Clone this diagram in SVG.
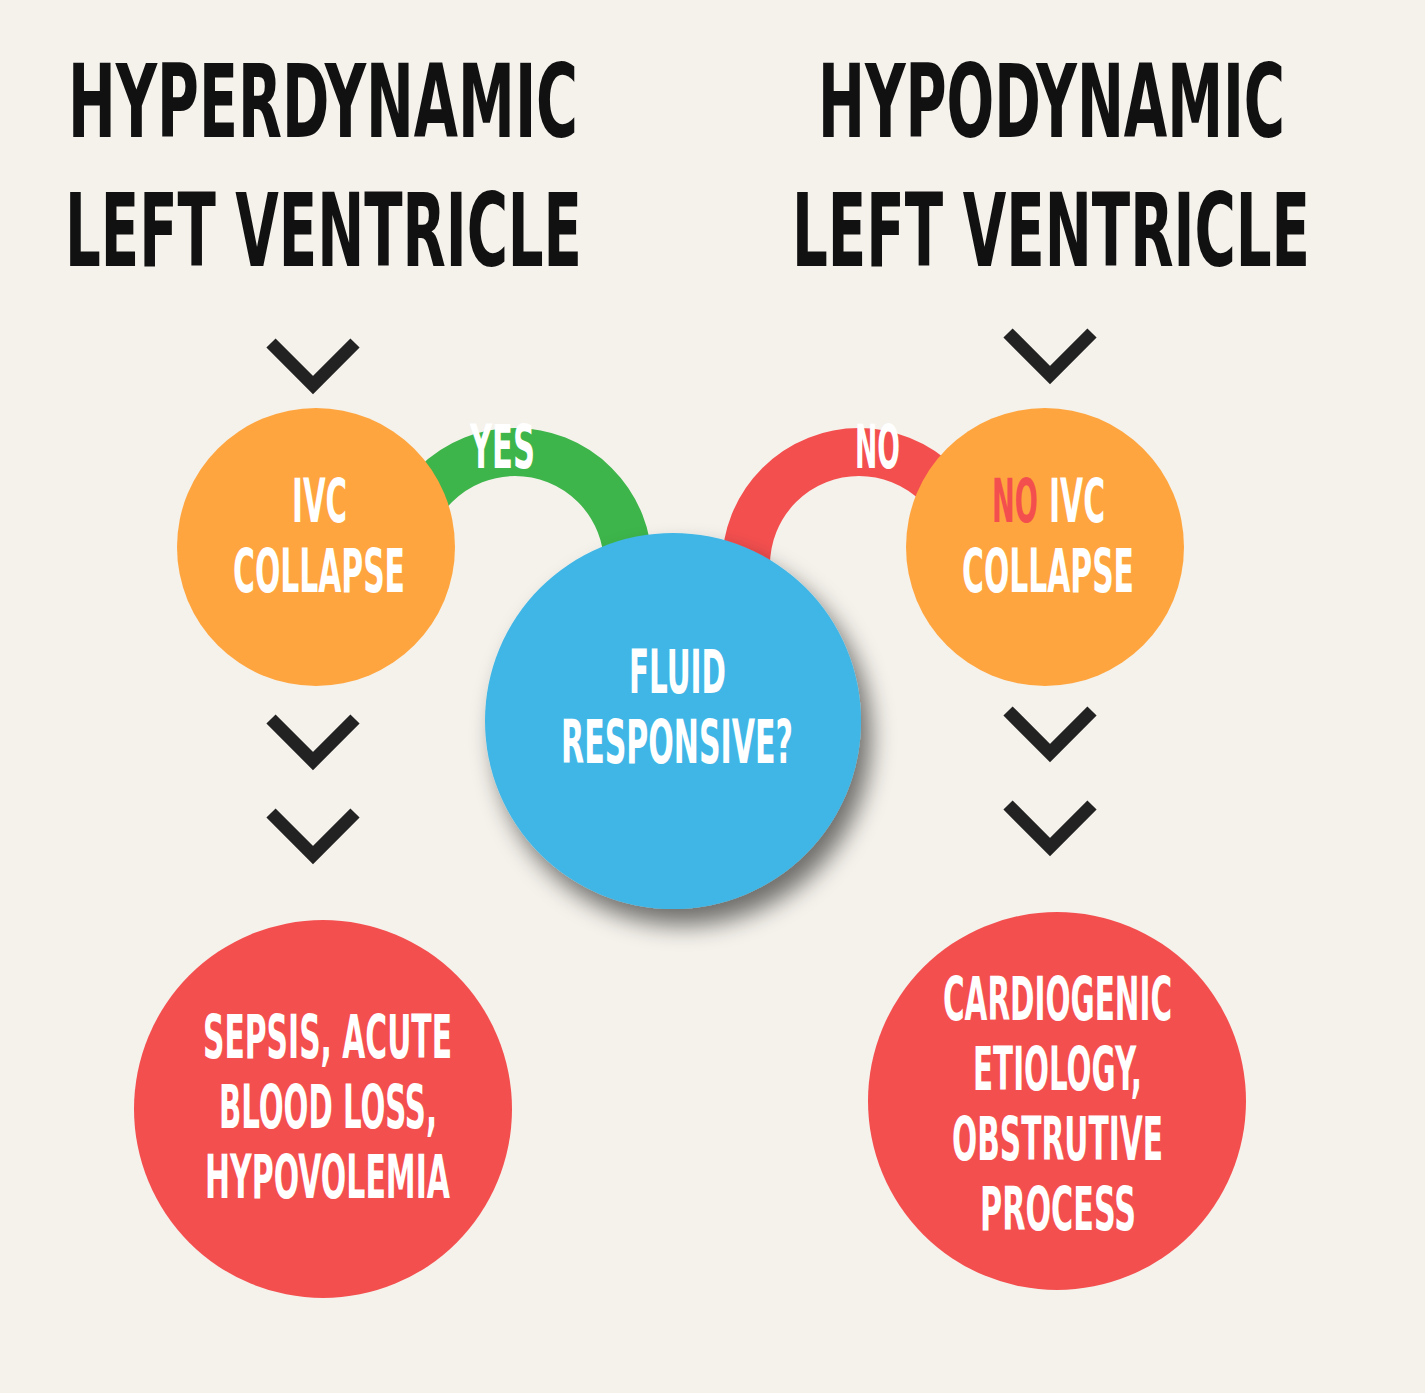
<svg xmlns="http://www.w3.org/2000/svg" width="1425" height="1393" viewBox="0 0 1425 1393">
<style>
.t{font-family:"DejaVu Sans Condensed","DejaVu Sans",sans-serif;font-weight:bold;fill:#111;font-size:102px}
.w{font-family:"DejaVu Sans Condensed","DejaVu Sans",sans-serif;font-weight:bold;fill:#fff;font-size:60px}
.chev{fill:none;stroke:#222;stroke-width:13}
</style>
<defs>
<filter id="sh" x="-30%" y="-30%" width="160%" height="160%"><feGaussianBlur in="SourceAlpha" stdDeviation="12"/><feOffset dx="10" dy="16"/><feComponentTransfer><feFuncA type="linear" slope="0.55"/></feComponentTransfer><feMerge><feMergeNode/><feMergeNode in="SourceGraphic"/></feMerge></filter>
</defs>
<rect width="1425" height="1393" fill="#f5f2ec"/>
<g id="titles">
<text class="t" x="68" y="137" textLength="510" lengthAdjust="spacingAndGlyphs">HYPERDYNAMIC</text>
<text class="t" x="65" y="266" textLength="517" lengthAdjust="spacingAndGlyphs">LEFT VENTRICLE</text>
<text class="t" x="818" y="137" textLength="467" lengthAdjust="spacingAndGlyphs">HYPODYNAMIC</text>
<text class="t" x="792" y="266" textLength="518" lengthAdjust="spacingAndGlyphs">LEFT VENTRICLE</text>
</g>
<g id="connectors">
<path d="M 402 565 A 113 113 0 0 1 628 565" fill="none" stroke="#3db54a" stroke-width="48"/>
<path d="M 746 565 A 113 113 0 0 1 972 565" fill="none" stroke="#f44f4f" stroke-width="48"/>
<path class="chev" d="M271 343 L313 385 L355 343"/>
<path class="chev" d="M271 719 L313 761 L355 719"/>
<path class="chev" d="M271 813 L313 855 L355 813"/>
<path class="chev" d="M1008 333 L1050 375 L1092 333"/>
<path class="chev" d="M1008 711 L1050 753 L1092 711"/>
<path class="chev" d="M1008 805 L1050 847 L1092 805"/>
<text class="w" x="470" y="468" textLength="65" lengthAdjust="spacingAndGlyphs">YES</text>
<text class="w" x="855" y="468" textLength="45" lengthAdjust="spacingAndGlyphs">NO</text>
</g>
<g id="ivc-left">
<circle cx="316" cy="547" r="139" fill="#ffa53f"/>
<text class="w" x="292" y="522" textLength="55" lengthAdjust="spacingAndGlyphs">IVC</text>
<text class="w" x="233" y="592" textLength="172" lengthAdjust="spacingAndGlyphs">COLLAPSE</text>
</g>
<g id="ivc-right">
<circle cx="1045" cy="547" r="139" fill="#ffa53f"/>
<text class="w" x="992" y="522" textLength="46" lengthAdjust="spacingAndGlyphs" style="fill:#f44f4f">NO</text>
<text class="w" x="1049" y="522" textLength="56" lengthAdjust="spacingAndGlyphs">IVC</text>
<text class="w" x="962" y="592" textLength="172" lengthAdjust="spacingAndGlyphs">COLLAPSE</text>
</g>
<g id="fluid">
<circle cx="673" cy="721" r="188" fill="#3fb6e6" filter="url(#sh)"/>
<text class="w" x="629" y="693" textLength="97" lengthAdjust="spacingAndGlyphs">FLUID</text>
<text class="w" x="561" y="763" textLength="232" lengthAdjust="spacingAndGlyphs">RESPONSIVE?</text>
</g>
<g id="result-left">
<circle cx="323" cy="1109" r="189" fill="#f44f4f"/>
<text class="w" x="203" y="1058" textLength="249" lengthAdjust="spacingAndGlyphs">SEPSIS, ACUTE</text>
<text class="w" x="219" y="1128" textLength="218" lengthAdjust="spacingAndGlyphs">BLOOD LOSS,</text>
<text class="w" x="205" y="1198" textLength="245" lengthAdjust="spacingAndGlyphs">HYPOVOLEMIA</text>
</g>
<g id="result-right">
<circle cx="1057" cy="1101" r="189" fill="#f44f4f"/>
<text class="w" x="943" y="1020" textLength="229" lengthAdjust="spacingAndGlyphs">CARDIOGENIC</text>
<text class="w" x="973" y="1090" textLength="169" lengthAdjust="spacingAndGlyphs">ETIOLOGY,</text>
<text class="w" x="952" y="1160" textLength="211" lengthAdjust="spacingAndGlyphs">OBSTRUTIVE</text>
<text class="w" x="980" y="1230" textLength="156" lengthAdjust="spacingAndGlyphs">PROCESS</text>
</g>
</svg>
